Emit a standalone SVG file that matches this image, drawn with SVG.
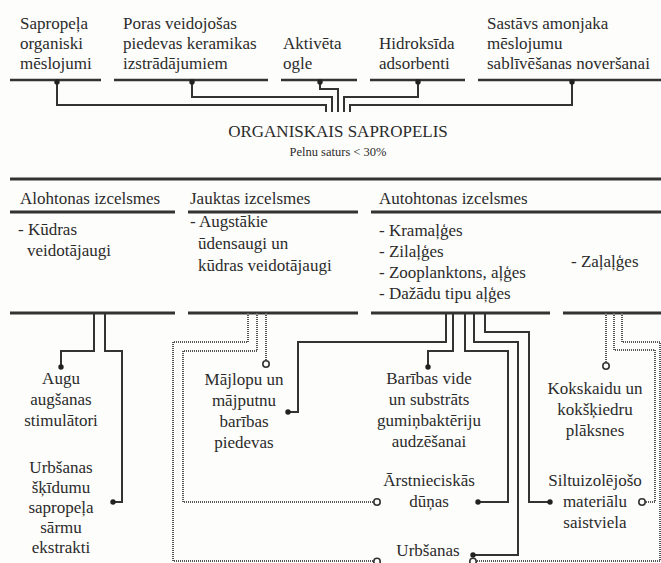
<svg xmlns="http://www.w3.org/2000/svg" width="661" height="563" viewBox="0 0 661 563">
<style>
.t{font-family:"Liberation Serif","Times New Roman",serif;font-size:17px;fill:#2b2b2b}
.c{text-anchor:middle}
.s{font-size:12.5px}
.bar{stroke:#333;stroke-width:3;fill:none}
.ul{stroke:#333;stroke-width:2.5;fill:none}
.ln{stroke:#333;stroke-width:2;fill:none}
.dl{stroke:#555;stroke-width:2;fill:none;stroke-dasharray:1 1}
.dot{fill:#222}
.ring{fill:#fdfdfb;stroke:#333;stroke-width:1.6}
</style>
<rect width="661" height="563" fill="#fdfdfb"/>

<g id="lines">
<path class="ul" d="M10,80H101M114,80H268M281,80H357M370,80H465M478,80H661"/>
<path class="bar" d="M10,179H661"/>
<path class="bar" d="M10,212H175M188,212H358M371,212H661"/>
<path class="bar" d="M10,313H175M188,313H358M371,313H550M563,313H661"/>
</g>

<g id="top1"><text class="t" x="20" y="29">Sapropeļa</text><text class="t" x="20" y="49">organiski</text><text class="t" x="20" y="69">mēslojumi</text></g>
<g id="top2"><text class="t" x="123" y="29">Poras veidojošas</text><text class="t" x="123" y="49">piedevas keramikas</text><text class="t" x="123" y="69">izstrādājumiem</text></g>
<g id="top3"><text class="t" x="283" y="49">Aktivēta</text><text class="t" x="283" y="69">ogle</text></g>
<g id="top4"><text class="t" x="379" y="49">Hidroksīda</text><text class="t" x="379" y="69">adsorbenti</text></g>
<g id="top5"><text class="t" x="487" y="29">Sastāvs amonjaka</text><text class="t" x="487" y="49">mēslojumu</text><text class="t" x="487" y="69">sablīvēšanas noveršanai</text></g>

<g id="center"><text class="t c" x="338" y="137">ORGANISKAIS SAPROPELIS</text><text class="t c s" x="338" y="156">Pelnu saturs &lt; 30%</text></g>

<g id="col1"><text class="t" x="20" y="204">Alohtonas izcelsmes</text><text class="t" x="18" y="235">- Kūdras</text><text class="t" x="27" y="256">veidotājaugi</text></g>
<g id="col2"><text class="t" x="190" y="204">Jauktas izcelsmes</text><text class="t" x="190" y="227">- Augstākie</text><text class="t" x="198" y="249">ūdensaugi un</text><text class="t" x="198" y="271">kūdras veidotājaugi</text></g>
<g id="col3"><text class="t" x="379" y="204">Autohtonas izcelsmes</text><text class="t" x="379" y="236">- Kramaļģes</text><text class="t" x="379" y="257">- Zilaļģes</text><text class="t" x="379" y="278">- Zooplanktons, aļģes</text><text class="t" x="379" y="299">- Dažādu tipu aļģes</text></g>
<g id="col4"><text class="t" x="571" y="267">- Zaļaļģes</text></g>

<g id="u1"><text class="t c" x="61" y="384">Augu</text><text class="t c" x="61" y="405">augšanas</text><text class="t c" x="61" y="426">stimulātori</text></g>
<g id="u2"><text class="t c" x="61" y="473">Urbšanas</text><text class="t c" x="61" y="493">šķīdumu</text><text class="t c" x="61" y="513">sapropeļa</text><text class="t c" x="61" y="533">sārmu</text><text class="t c" x="61" y="553">ekstrakti</text></g>
<g id="u3"><text class="t c" x="244" y="385">Mājlopu un</text><text class="t c" x="244" y="406">mājputnu</text><text class="t c" x="244" y="427">barības</text><text class="t c" x="244" y="448">piedevas</text></g>
<g id="u4"><text class="t c" x="429" y="384">Barības vide</text><text class="t c" x="429" y="405">un substrāts</text><text class="t c" x="429" y="426">gumiņbaktēriju</text><text class="t c" x="429" y="447">audzēšanai</text></g>
<g id="u5"><text class="t c" x="429" y="486">Ārstnieciskās</text><text class="t c" x="429" y="507">dūņas</text></g>
<g id="u6"><text class="t c" x="428" y="556">Urbšanas</text></g>
<g id="u7"><text class="t c" x="595" y="394">Kokskaidu un</text><text class="t c" x="595" y="415">kokšķiedru</text><text class="t c" x="595" y="436">plāksnes</text></g>
<g id="u8"><text class="t c" x="595" y="486">Siltuizolējošo</text><text class="t c" x="595" y="507">materiālu</text><text class="t c" x="595" y="528">saistviela</text></g>

<g id="connectors">
<path class="ln" d="M57,82V105H326V112M192,82V97H332V112M320,82V89H338V112M418,82V97H344V112M572,82V105H350V112"/>
<path class="ln" d="M94,313V351H61V367M105,313V351H122V502H113M446,313V342H298V412H288M453,313V351H428V367M465,313V351H508V502H478M474,313V342H518V555H473M485,313V332H529V502H550"/>
<path class="dl" d="M248,313V342H173V561H374M257,313V351H183V502H374M266,313V360M606,313V362M614,313V350H655V502H645M622,313V342H660V561H476"/>
<g class="dot">
<circle cx="57" cy="82" r="2.7"/><circle cx="192" cy="82" r="2.7"/><circle cx="320" cy="82" r="2.7"/><circle cx="418" cy="82" r="2.7"/><circle cx="572" cy="82" r="2.7"/>
<circle cx="61" cy="367" r="2.7"/><circle cx="113" cy="502" r="2.7"/><circle cx="288" cy="412" r="2.7"/><circle cx="428" cy="367" r="2.7"/><circle cx="478" cy="502" r="2.7"/><circle cx="473" cy="555" r="2.7"/><circle cx="550" cy="502" r="2.7"/>
</g>
<g class="ring">
<circle cx="266" cy="364" r="3.2"/><circle cx="606" cy="366" r="3.2"/><circle cx="377" cy="502" r="3.2"/><circle cx="642" cy="502" r="3.2"/><circle cx="377" cy="561.5" r="3.2"/><circle cx="473" cy="561.5" r="3.2"/>
</g>
</g>
</svg>
